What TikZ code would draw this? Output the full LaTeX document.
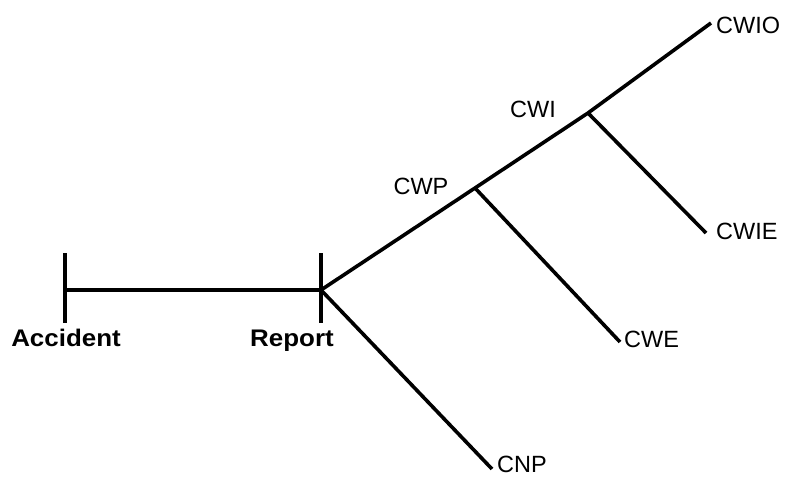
\documentclass[tikz,border=0pt]{standalone}
\usepackage{fontspec}
\setmainfont{Liberation Sans}
\begin{document}
\begin{tikzpicture}[x=1pt,y=-1pt,
  ln/.style={line width=3.6pt},
  lbl/.style={inner sep=0pt, font=\fontsize{23.5}{23.5}\selectfont},
  blbl/.style={inner sep=0pt, font=\fontsize{24}{24}\selectfont\bfseries, xscale=1.08}]
\useasboundingbox (0,0) rectangle (792,481);
% junctions and line ends
\coordinate (acc) at (65,290);
\coordinate (rep) at (321,290);
\coordinate (acctop) at (65,253);
\coordinate (accbot) at (65,323);
\coordinate (reptop) at (321,253);
\coordinate (repbot) at (321,323);
\coordinate (cwpj) at (475,188);
\coordinate (cwij) at (588,113);
\coordinate (cwioend) at (711,23);
\coordinate (cwieend) at (706,233);
\coordinate (cweend) at (620,342);
\coordinate (cnpend) at (492,469);
% labels
\node[blbl, anchor=base] (accident) at (66,346) {Accident};
\node[blbl, anchor=base] (report) at (292,346) {Report};
\node[lbl, anchor=base] (cwp) at (421,194) {CWP};
\node[lbl, anchor=base] (cwi) at (533,118) {CWI};
\node[lbl, anchor=base west] (cwio) at (716,34) {CWIO};
\node[lbl, anchor=base west] (cwie) at (716,240) {CWIE};
\node[lbl, anchor=base west] (cwe) at (624,347) {CWE};
\node[lbl, anchor=base west] (cnp) at (497,472) {CNP};
% lines
\draw[ln] (acctop) -- (accbot);
\draw[ln] (reptop) -- (repbot);
\draw[ln] (acc) -- (rep);
\draw[ln] (rep) -- (cwpj) -- (cwij) -- (cwioend);
\draw[ln] (cwpj) -- (cweend);
\draw[ln] (cwij) -- (cwieend);
\draw[ln] (rep) -- (cnpend);
\end{tikzpicture}
\end{document}
